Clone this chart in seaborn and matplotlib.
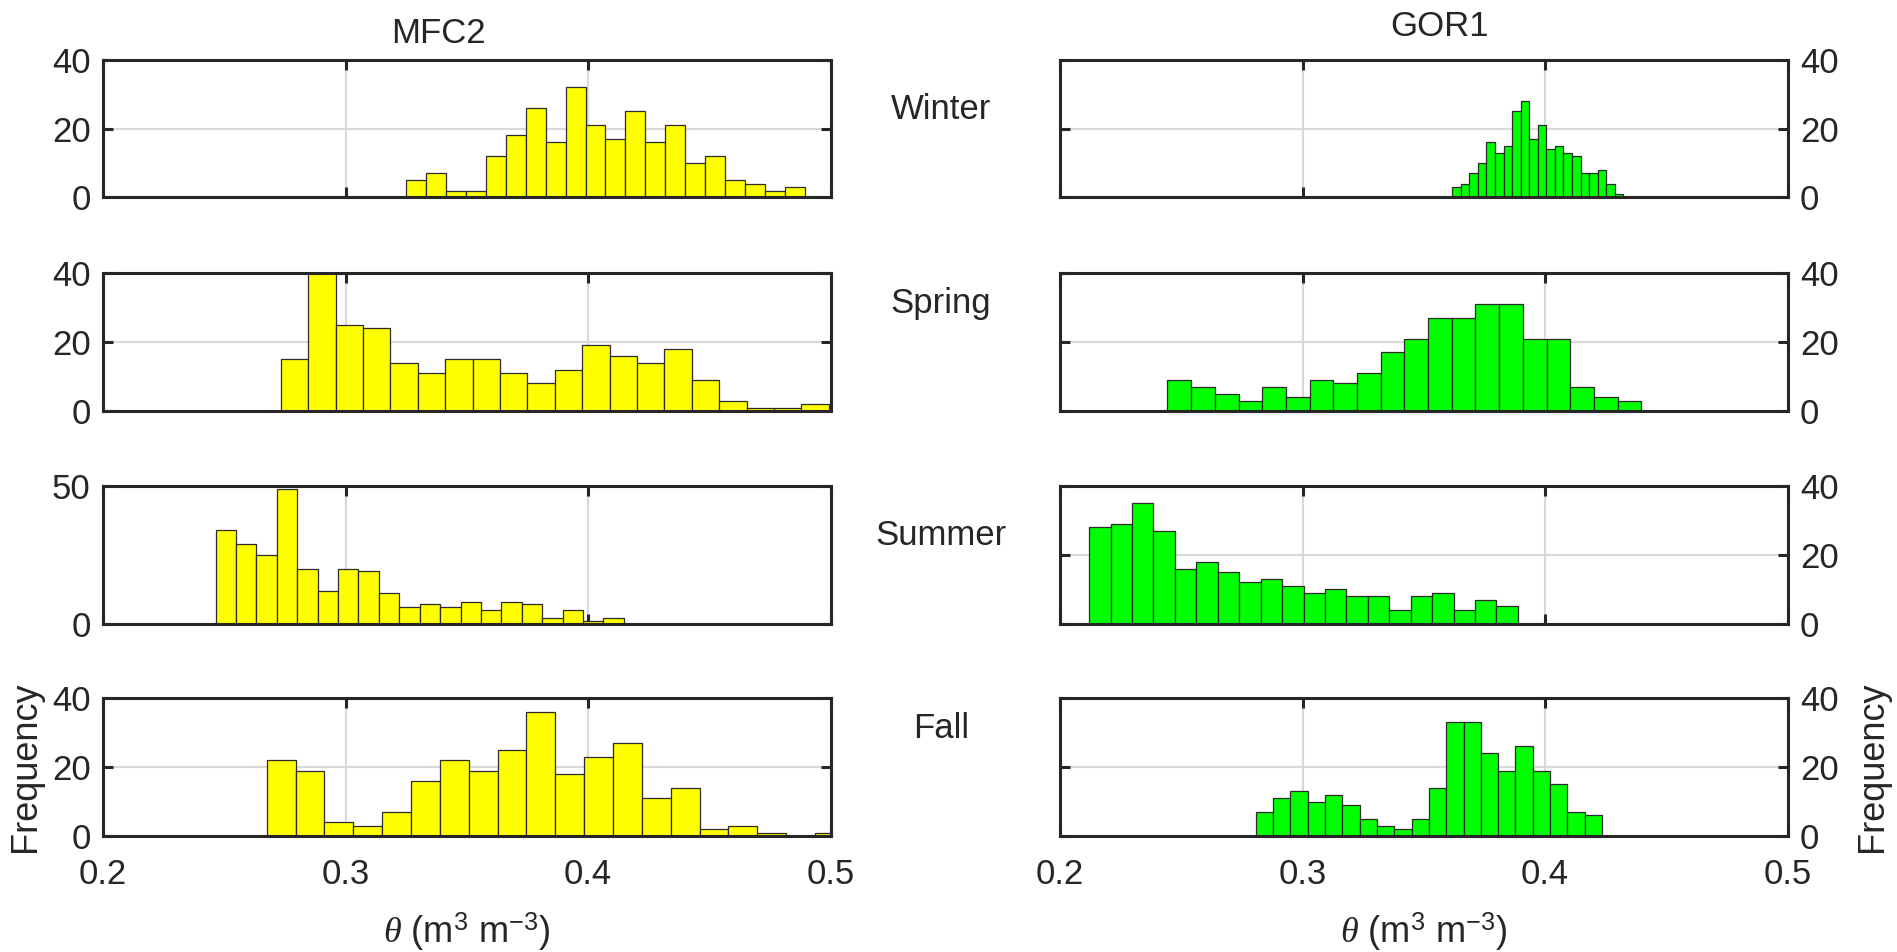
import numpy as np
import pandas as pd
import matplotlib
matplotlib.use("Agg")
import matplotlib.pyplot as plt
import seaborn as sns

# Histogram counts (20 bins per panel)
seasons = ["Winter", "Spring", "Summer", "Fall"]
sites = ["MFC2", "GOR1"]

# MFC2 bins: start, width
mfc2_start = [0.3250, 0.2733, 0.2464, 0.2675]
mfc2_width = [0.00822, 0.0113, 0.00842, 0.0119]
mfc2_winter = [5, 7, 2, 2, 12, 18, 26, 16, 32, 21, 17, 25, 16, 21, 10, 12, 5, 4, 2, 3]
mfc2_spring = [15, 40, 25, 24, 14, 11, 15, 15, 11, 8, 12, 19, 16, 14, 18, 9, 3, 1, 1, 2]
mfc2_summer = [34, 29, 25, 49, 20, 12, 20, 19, 11, 6, 7, 6, 8, 5, 8, 7, 2, 5, 1, 2]
mfc2_fall = [22, 19, 4, 3, 7, 16, 22, 19, 25, 36, 18, 23, 27, 11, 14, 2, 3, 1, 0, 1]

# GOR1 bins: start, width
gor1_start = [0.3617, 0.2443, 0.2120, 0.2807]
gor1_width = [0.00353, 0.00977, 0.00884, 0.00714]
gor1_winter = [3, 4, 7, 10, 16, 13, 15, 25, 28, 17, 21, 14, 15, 13, 12, 7, 7, 8, 4, 1]
gor1_spring = [9, 7, 5, 3, 7, 4, 9, 8, 11, 17, 21, 27, 27, 31, 31, 21, 21, 7, 4, 3]
gor1_summer = [28, 29, 35, 27, 16, 18, 15, 12, 13, 11, 9, 10, 8, 8, 4, 8, 9, 4, 7, 5]
gor1_fall = [7, 11, 13, 10, 12, 9, 5, 3, 2, 5, 14, 33, 33, 24, 19, 26, 19, 15, 7, 6]

mfc2_counts = [mfc2_winter, mfc2_spring, mfc2_summer, mfc2_fall]
gor1_counts = [gor1_winter, gor1_spring, gor1_summer, gor1_fall]

x_ticks = [0.2, 0.3, 0.4, 0.5]
x_tick_labels = ["0.2", "0.3", "0.4", "0.5"]

sns.set_style("white")
plt.rcParams["font.family"] = ["Liberation Sans", "DejaVu Sans"]
plt.rcParams["mathtext.fontset"] = "custom"
plt.rcParams["mathtext.rm"] = "Liberation Sans"
plt.rcParams["mathtext.it"] = "Liberation Serif:italic"
plt.rcParams["mathtext.bf"] = "Liberation Sans:bold"

fig = plt.figure(figsize=(18.97, 9.52), dpi=100)

col_left = [0.0543, 0.5588]
col_width = 0.3835
row_bottom = [0.7926, 0.5683, 0.3449, 0.1218]
row_h = 0.1448
colors = ["#ffff00", "#00ff00"]
ink = "#262626"
fs = 25

for c, (site, counts_list, starts, widths) in enumerate(
        [("MFC2", mfc2_counts, mfc2_start, mfc2_width),
         ("GOR1", gor1_counts, gor1_start, gor1_width)]):
    for r, season in enumerate(seasons):
        ax = fig.add_axes([col_left[c], row_bottom[r], col_width, row_h])
        counts = np.array(counts_list[r])
        edges = starts[r] + widths[r] * np.arange(len(counts) + 1)
        centers = (edges[:-1] + edges[1:]) / 2
        df = pd.DataFrame({"theta": centers, "n": counts})
        sns.histplot(data=df, x="theta", weights="n", bins=edges.tolist(),
                     ax=ax, color=colors[c], edgecolor="#2a2a2a",
                     linewidth=0.9, alpha=1.0, zorder=2)
        ax.set_xlim(0.2, 0.5)
        ax.set_xticks(x_ticks)
        if site == "MFC2" and season == "Summer":
            ax.set_ylim(0, 50)
            ax.set_yticks([0, 50])
        else:
            ax.set_ylim(0, 40)
            ax.set_yticks([0, 20, 40])
        ax.grid(True, color="#d9d9d9", linewidth=1.5, zorder=0)
        ax.set_axisbelow(True)
        for s in ax.spines.values():
            s.set_linewidth(2.2)
            s.set_color(ink)
            s.set_zorder(5)
        ax.tick_params(direction="in", length=7, width=2.2, top=True,
                       right=True, left=True, bottom=True, labelsize=fs,
                       colors=ink)
        ax.tick_params(axis="x", pad=16)
        ax.tick_params(axis="y", pad=9)
        if c == 1:
            ax.tick_params(labelleft=False, labelright=True)
        if r < 3:
            ax.tick_params(labelbottom=False)
            ax.set_xlabel("")
        else:
            ax.set_xticklabels(x_tick_labels)
            ax.set_xlabel(r"$\mathit{\theta}$ (m$^3$ m$^{-3}$)", fontsize=26,
                          labelpad=14, color=ink)
        if r == 3:
            ax.set_ylabel("Frequency", fontsize=26, color=ink,
                          labelpad=6 if c == 0 else 12)
            if c == 1:
                ax.yaxis.set_label_position("right")
        else:
            ax.set_ylabel("")

# column titles (slightly off-centre, as in the original)
fig.text(0.231, 0.955, "MFC2", ha="center", va="baseline", fontsize=fs,
         color=ink)
fig.text(0.759, 0.962, "GOR1", ha="center", va="baseline", fontsize=fs,
         color=ink)

season_y = [0.885, 0.681, 0.4375, 0.2347]
for season, y in zip(seasons, season_y):
    fig.text(0.496, y, season, ha="center", va="center", fontsize=fs,
             color=ink)

fig.savefig("out.png", dpi=100)
